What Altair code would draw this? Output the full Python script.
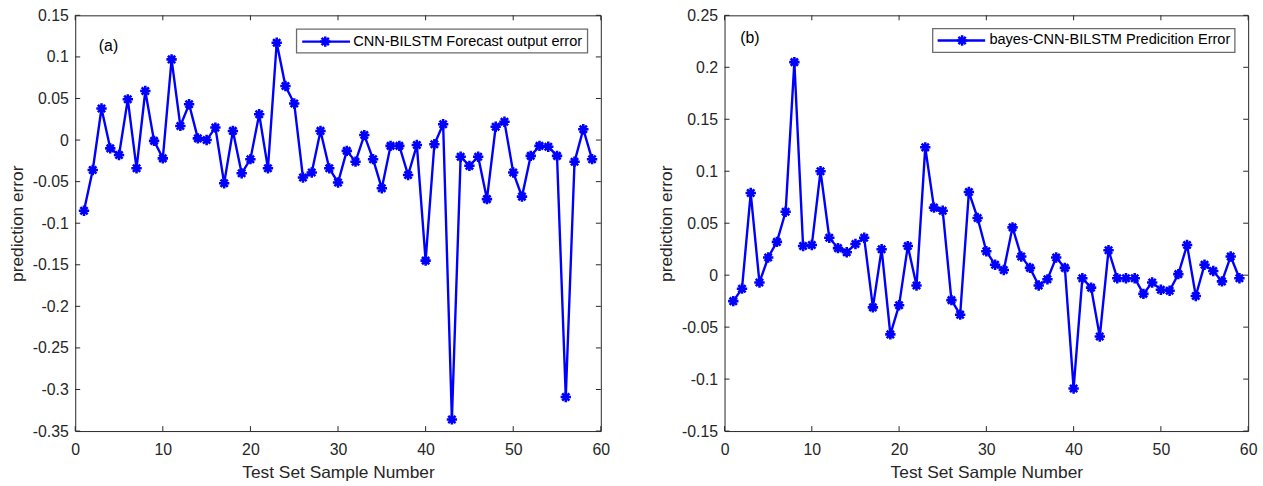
import altair as alt
import pandas as pd

sample = list(range(1, 60))

err_a = [-0.085, -0.036, 0.038, -0.010, -0.018, 0.049, -0.034, 0.059, -0.001, -0.022,
         0.097, 0.017, 0.043, 0.002, 0.000, 0.015, -0.052, 0.011, -0.040, -0.023,
         0.031, -0.034, 0.117, 0.065, 0.044, -0.045, -0.039, 0.011, -0.034, -0.051,
         -0.013, -0.026, 0.006, -0.023, -0.058, -0.007, -0.007, -0.042, -0.006, -0.145,
         -0.005, 0.019, -0.336, -0.020, -0.031, -0.020, -0.071, 0.016, 0.022, -0.039,
         -0.068, -0.019, -0.007, -0.008, -0.019, -0.309, -0.026, 0.013, -0.023]

err_b = [-0.025, -0.013, 0.079, -0.007, 0.017, 0.032, 0.061, 0.205, 0.028, 0.029,
         0.100, 0.036, 0.026, 0.022, 0.030, 0.036, -0.031, 0.025, -0.057, -0.029,
         0.028, -0.010, 0.123, 0.065, 0.062, -0.024, -0.038, 0.080, 0.055, 0.023,
         0.010, 0.005, 0.046, 0.018, 0.007, -0.010, -0.004, 0.017, 0.007, -0.109,
         -0.003, -0.012, -0.059, 0.024, -0.003, -0.003, -0.003, -0.018, -0.007, -0.014,
         -0.015, 0.001, 0.029, -0.020, 0.010, 0.004, -0.006, 0.018, -0.003]

x_ticks = [0, 10, 20, 30, 40, 50, 60]
y_ticks_a = [-0.35, -0.3, -0.25, -0.2, -0.15, -0.1, -0.05, 0, 0.05, 0.1, 0.15]
y_ticks_b = [-0.15, -0.1, -0.05, 0, 0.05, 0.1, 0.15, 0.2, 0.25]

legend_a = "CNN-BILSTM Forecast output error"
legend_b = "bayes-CNN-BILSTM Predicition Error"
x_title = "Test Set Sample Number"
y_title = "prediction error"

AX = "#262626"
BLUE = "#0000FF"
FONT = "Liberation Sans"
STAR = "M0,-1L0,1M-1,0L1,0M-0.7,-0.7L0.7,0.7M-0.7,0.7L0.7,-0.7"
LABEXPR = "datum.value < 0 ? '-' + format(-datum.value, '~g') : format(datum.value, '~g')"


def panel(vals, ydom, yticks, tag, leg, W, H, tagxy, box, line, mark_x, text_x, text_y):
    df = pd.DataFrame({"n": sample, "e": vals})
    xs = alt.Scale(domain=[0, 60], nice=False, zero=False)
    ys = alt.Scale(domain=ydom, nice=False, zero=False)
    xenc = alt.X("n:Q", scale=xs, title=x_title,
                 axis=alt.Axis(values=x_ticks, format="d", labelFlush=False))
    yenc = alt.Y("e:Q", scale=ys, title=y_title,
                 axis=alt.Axis(values=yticks, labelExpr=LABEXPR))

    base = alt.Chart(df)
    ln = base.mark_line(color=BLUE, strokeWidth=2.4).encode(x=xenc, y=yenc)
    pts = base.mark_point(shape=STAR, size=110, color=BLUE, strokeWidth=2.6,
                          filled=False, opacity=1).encode(x=xenc, y=yenc)

    xt = pd.DataFrame({"n": x_ticks})
    yt = pd.DataFrame({"e": yticks})
    top = alt.Chart(xt).mark_rule(color=AX, strokeWidth=1).encode(
        x=xenc, y=alt.value(0), y2=alt.value(5))
    bot = alt.Chart(xt).mark_rule(color=AX, strokeWidth=1).encode(
        x=xenc, y=alt.value(H), y2=alt.value(H - 5))
    lft = alt.Chart(yt).mark_rule(color=AX, strokeWidth=1).encode(
        y=yenc, x=alt.value(0), x2=alt.value(5))
    rgt = alt.Chart(yt).mark_rule(color=AX, strokeWidth=1).encode(
        y=yenc, x=alt.value(W), x2=alt.value(W - 5))

    one = alt.Chart(pd.DataFrame({"k": [0]}))
    lbox = one.mark_rect(fill="white", stroke="#6b6b6b", strokeWidth=1.3).encode(
        x=alt.value(box[0]), x2=alt.value(box[1]), y=alt.value(box[2]), y2=alt.value(box[3]))
    lline = one.mark_rule(color=BLUE, strokeWidth=2.4).encode(
        x=alt.value(line[0]), x2=alt.value(line[1]), y=alt.value(text_y))
    lpt = one.mark_point(shape=STAR, size=110, color=BLUE, strokeWidth=2.6, opacity=1).encode(
        x=alt.value(mark_x), y=alt.value(text_y))
    ltxt = one.mark_text(text=leg, align="left", baseline="middle", font=FONT,
                         fontSize=14.7, color="#000000").encode(
        x=alt.value(text_x), y=alt.value(text_y))
    tagt = one.mark_text(text=tag, align="center", baseline="middle", font=FONT,
                         fontSize=16, color="#000000").encode(
        x=alt.value(tagxy[0]), y=alt.value(tagxy[1]))

    return alt.layer(ln, pts, top, bot, lft, rgt, lbox, lline, lpt, ltxt, tagt).properties(
        width=W, height=H)


left = panel(err_a, [-0.35, 0.15], y_ticks_a, "(a)", legend_a, 531, 420,
             (33.6, 30.6), (223.6, 517.6, 14, 38), (229.3, 277.6), 252.6, 281, 26.5)
right = panel(err_b, [-0.15, 0.25], y_ticks_b, "(b)", legend_b, 529, 420,
              (25.6, 22.7), (210.3, 515.6, 13.4, 37.4), (215.3, 263.3), 240, 267.6, 25.4)

chart = alt.hconcat(left, right, spacing=47).properties(
    padding={"left": 8, "top": 4, "right": 5, "bottom": 2},
    background="white",
).configure_view(
    stroke=AX, strokeWidth=1
).configure_axis(
    labelFont=FONT, titleFont=FONT, labelColor=AX, titleColor=AX,
    labelFontSize=16, titleFontSize=17.5, titleFontWeight="normal",
    ticks=False, tickSize=0, domain=False, grid=False,
    titlePadding=6,
).configure_axisX(
    labelPadding=11
).configure_axisY(
    labelPadding=7
)

chart.save("out.html", embed_options={"renderer": "svg", "actions": False})
